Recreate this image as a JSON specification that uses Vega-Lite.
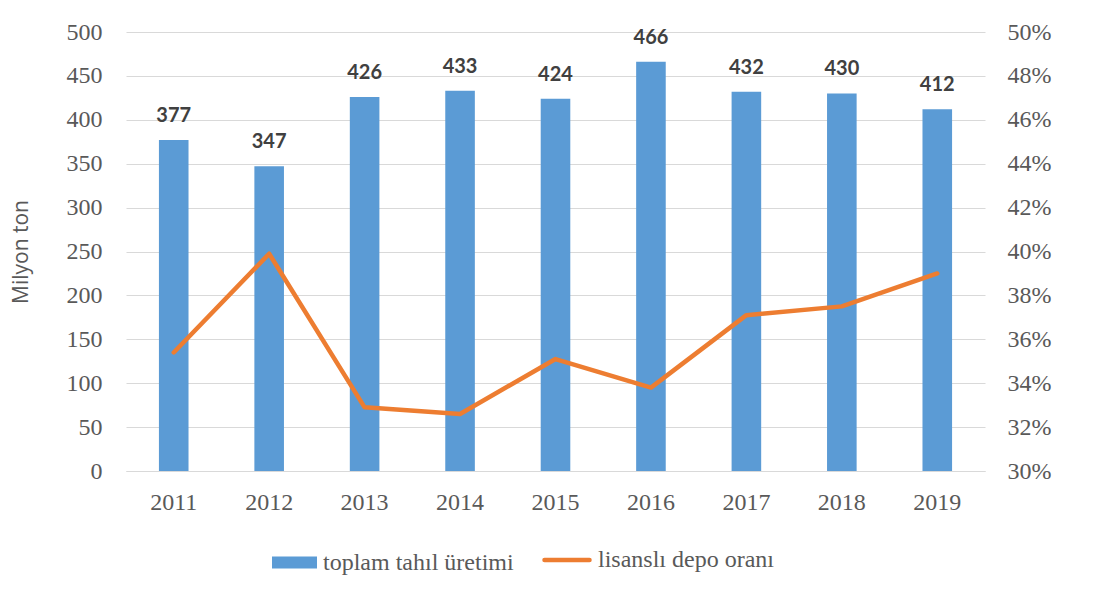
{
  "$schema": "https://vega.github.io/schema/vega-lite/v6.json",
  "width": 859,
  "height": 439,
  "autosize": {"type": "none"},
  "padding": {"left": 126, "top": 32, "right": 114, "bottom": 132},
  "background": "white",
  "data": {
    "values": [
      {"yil": "2011", "uretim": 377, "oran": 0.354},
      {"yil": "2012", "uretim": 347, "oran": 0.399},
      {"yil": "2013", "uretim": 426, "oran": 0.329},
      {"yil": "2014", "uretim": 433, "oran": 0.326},
      {"yil": "2015", "uretim": 424, "oran": 0.351},
      {"yil": "2016", "uretim": 466, "oran": 0.338},
      {"yil": "2017", "uretim": 432, "oran": 0.371},
      {"yil": "2018", "uretim": 430, "oran": 0.375},
      {"yil": "2019", "uretim": 412, "oran": 0.390}
    ]
  },
  "encoding": {
    "x": {
      "field": "yil",
      "type": "ordinal",
      "scale": {"paddingInner": 0.69, "paddingOuter": 0.345},
      "axis": {
        "title": null,
        "labelAngle": 0,
        "labelFont": "Liberation Serif",
        "labelFontSize": 24,
        "labelColor": "#595959",
        "labelPadding": 19,
        "domainColor": "#D9D9D9",
        "domainWidth": 1,
        "ticks": false,
        "grid": false
      }
    }
  },
  "layer": [
    {
      "layer": [
        {
          "mark": {"type": "bar"},
          "encoding": {
            "y": {
              "field": "uretim",
              "type": "quantitative",
              "scale": {"domain": [0, 500]},
              "axis": {
                "title": "Milyon ton",
                "titleFont": "Open Sans",
                "titleFontWeight": "normal",
                "titleFontSize": 21,
                "titleColor": "#595959",
                "titlePadding": 35,
                "values": [0, 50, 100, 150, 200, 250, 300, 350, 400, 450, 500],
                "labelFont": "Liberation Serif",
                "labelFontSize": 24,
                "labelColor": "#595959",
                "labelPadding": 24,
                "ticks": false,
                "domain": false,
                "grid": true,
                "gridColor": "#D9D9D9",
                "gridWidth": 1.2
              }
            },
            "fill": {
              "datum": "toplam tahıl üretimi",
              "scale": {"range": ["#5B9BD5"]},
              "legend": {
                "title": null,
                "orient": "none",
                "legendX": 146,
                "legendY": 508,
                "symbolType": "M-1,-0.27H1V0.27H-1Z",
                "symbolSize": 2025,
                "symbolStrokeWidth": 0,
                "labelFont": "Liberation Serif",
                "labelFontSize": 24,
                "labelColor": "#595959",
                "labelOffset": 6,
                "labelLimit": 0
              }
            }
          }
        },
        {
          "mark": {"type": "text", "baseline": "bottom", "dy": -14, "font": "Lato", "fontWeight": "bold", "fontSize": 20, "color": "#404040"},
          "encoding": {
            "y": {"field": "uretim", "type": "quantitative"},
            "text": {"field": "uretim", "type": "quantitative"}
          }
        }
      ]
    },
    {
      "mark": {"type": "line", "strokeWidth": 4.5, "strokeCap": "round", "strokeJoin": "round"},
      "encoding": {
        "y": {
          "field": "oran",
          "type": "quantitative",
          "scale": {"domain": [0.3, 0.5]},
          "axis": {
            "orient": "right",
            "title": null,
            "format": ".0%",
            "values": [0.3, 0.32, 0.34, 0.36, 0.38, 0.4, 0.42, 0.44, 0.46, 0.48, 0.5],
            "labelFont": "Liberation Serif",
            "labelFontSize": 24,
            "labelColor": "#595959",
            "labelPadding": 22,
            "ticks": false,
            "domain": false,
            "grid": false
          }
        },
        "stroke": {
          "datum": "lisanslı depo oranı",
          "scale": {"range": ["#ED7D31"]},
          "legend": {
            "title": null,
            "orient": "none",
            "legendX": 416,
            "legendY": 503,
            "symbolType": "stroke",
            "symbolSize": 2025,
            "symbolStrokeWidth": 4.5,
            "labelFont": "Liberation Serif",
            "labelFontSize": 24,
            "labelColor": "#595959",
            "labelOffset": 6,
            "labelLimit": 0,
            "encode": {"symbols": {"update": {"strokeCap": {"value": "round"}}}}
          }
        }
      }
    }
  ],
  "resolve": {"scale": {"y": "independent"}},
  "config": {
    "view": {"stroke": null}
  }
}
